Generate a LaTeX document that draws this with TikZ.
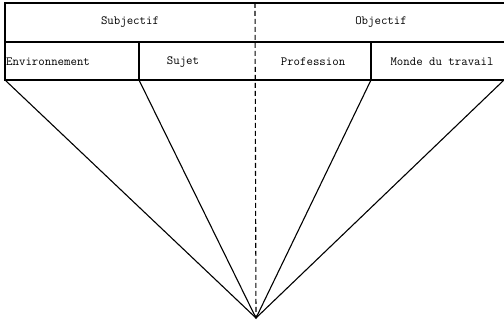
\documentclass[tikz,border=0pt]{standalone}
\begin{document}
\begin{tikzpicture}[x=1pt,y=-1pt,
  ln/.style={line width=1.1pt,black},
  lbl/.style={font=\ttfamily\fontsize{12.5}{14}\selectfont,inner sep=0pt}]
\useasboundingbox (0,0) rectangle (504,323);
\coordinate (tl) at (5,3);
\coordinate (tr) at (504,3);
\coordinate (ml) at (5,42);
\coordinate (mr) at (504,42);
\coordinate (bl) at (5,80);
\coordinate (br) at (504,80);
\coordinate (b1) at (139,80);
\coordinate (m1) at (139,42);
\coordinate (b3) at (371,80);
\coordinate (m3) at (371,42);
\coordinate (dt) at (255,3);
\coordinate (apex) at (256,318);
\draw[ln] (tr) -- (tl) -- (bl) -- (br);
\draw[ln] (ml) -- (mr);
\draw[ln] (m1) -- (b1);
\draw[ln] (m3) -- (b3);
\draw[ln,dash pattern=on 5pt off 3pt] (dt) -- (apex);
\draw[ln] (bl) -- (apex) -- (br);
\draw[ln] (b1) -- (apex) -- (b3);
\node[lbl] (subj) at (130,22) {Subjectif};
\node[lbl] (obj) at (381,22) {Objectif};
\node[lbl,anchor=west] (env) at (6,62) {Environnement};
\node[lbl] (suj) at (183,62) {Sujet};
\node[lbl] (prof) at (313,62) {Profession};
\node[lbl] (monde) at (442,62) {Monde du travail};
\end{tikzpicture}
\end{document}
